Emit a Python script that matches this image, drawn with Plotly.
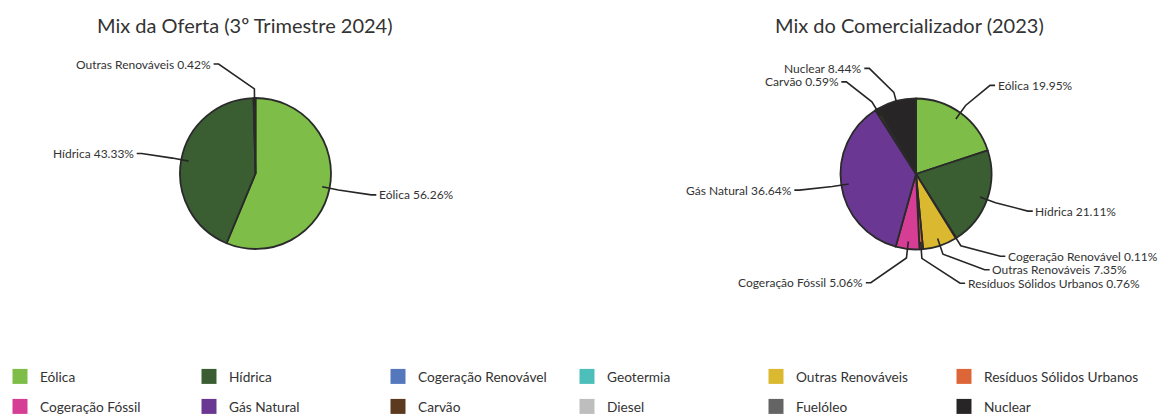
import math
import plotly.graph_objects as go

# ---------------- data ----------------
categories = ["Eólica", "Hídrica", "Cogeração Renovável", "Geotermia",
              "Outras Renováveis", "Resíduos Sólidos Urbanos", "Cogeração Fóssil",
              "Gás Natural", "Carvão", "Diesel", "Fuelóleo", "Nuclear"]
oferta_values = [56.26, 43.33, 0, 0, 0.42, 0, 0, 0, 0, 0, 0, 0]
comercializador_values = [19.95, 21.11, 0.11, 0, 7.35, 0.76, 5.06, 36.64, 0.59, 0, 0, 8.44]
chart_titles = ["Mix da Oferta (3º Trimestre 2024)", "Mix do Comercializador (2023)"]

# ---------------- style ----------------
colors = ["#7dbd48", "#3a5d32", "#5577bc", "#4cbfba", "#dab830", "#dd6638",
          "#d63d94", "#6a3892", "#5c3a20", "#bebebe", "#646464", "#282527"]
FONT = "Lato"
TEXT_COLOR = "#333333"
LINE_COLOR = "#262626"
W, H = 1160, 414
R = 75.5
CENTERS = [(255.5, 173.5), (916.0, 174.0)]
TITLE_POS = [(245, 25), (909, 25)]
LABEL_Y_R = 1.45          # radius used for the label's vertical position
LABEL_X_R_TOP = 1.53      # labels sit on these circles (upper / lower half)
LABEL_X_R_BOTTOM = 1.56
BEND_R = 1.12
GAP = 13.5
LEG_COLS = 6
LEG_ROW_Y = [376.5, 406.5]
LEG_ENTRY = 144
LEG_LAST_X = 944


def px(x, y):
    return x / W, 1 - y / H


def resolve(group, gap):
    """Push overlapping labels away from the pie's top/bottom (towards the middle)."""
    top = sorted([g for g in group if g["uy"] < 0], key=lambda d: d["ly"])
    for a, b in zip(top, top[1:]):
        if b["ly"] - a["ly"] < gap:
            b["ly"] = a["ly"] + gap
    bot = sorted([g for g in group if g["uy"] >= 0], key=lambda d: -d["ly"])
    for a, b in zip(bot, bot[1:]):
        if a["ly"] - b["ly"] < gap:
            b["ly"] = a["ly"] - gap


fig = go.Figure()
shapes = []
annotations = []

for (cx, cy), vals, title, tpos in zip(CENTERS, [oferta_values, comercializador_values],
                                       chart_titles, TITLE_POS):
    labs = [c for c, v in zip(categories, vals) if v > 0]
    vs = [v for v in vals if v > 0]
    cols = [col for col, v in zip(colors, vals) if v > 0]
    x0, y1 = px(cx - R, cy - R)
    x1, y0 = px(cx + R, cy + R)
    fig.add_trace(go.Pie(
        labels=labs, values=vs, sort=False, direction="clockwise", rotation=0,
        textinfo="none", textposition="none", showlegend=False,
        marker=dict(colors=cols, line=dict(color="#2a2a2a", width=1.8)),
        domain=dict(x=[x0, x1], y=[y0, y1]), hoverinfo="label+percent",
    ))

    total = sum(vs)
    items = []
    cum = 0.0
    for lab, v in zip(labs, vs):
        mid = (cum + v / 2) / total * 2 * math.pi
        cum += v
        ux, uy = math.sin(mid), -math.cos(mid)
        side = 1 if ux >= 0 else -1
        items.append(dict(lab=lab, v=v, ux=ux, uy=uy, side=side,
                          ly=cy + LABEL_Y_R * R * uy))

    for side in (1, -1):
        resolve([it for it in items if it["side"] == side], GAP)

    for it in items:
        rl = (LABEL_X_R_TOP if it["uy"] < 0 else LABEL_X_R_BOTTOM) * R
        dy = it["ly"] - cy
        dx = math.sqrt(max(rl * rl - dy * dy, 0.0))
        p0 = (cx + 0.9 * R * it["ux"], cy + 0.9 * R * it["uy"])
        p1 = (cx + BEND_R * R * it["ux"], cy + BEND_R * R * it["uy"])
        p2 = (cx + it["side"] * max(dx, abs(p1[0] - cx) + 8), it["ly"])
        p3 = (p2[0] + it["side"] * 5, it["ly"])
        pts = [px(*p) for p in (p0, p1, p2, p3)]
        path = "M " + " L ".join(f"{a:.5f},{b:.5f}" for a, b in pts)
        shapes.append(dict(type="path", path=path, xref="paper", yref="paper",
                           line=dict(color=LINE_COLOR, width=1.6)))
        tx, ty = px(p3[0] + it["side"] * 0.5, p3[1])
        annotations.append(dict(
            x=tx, y=ty, xref="paper", yref="paper", showarrow=False,
            text=f"{it['lab']} {it['v']:.2f}%",
            xanchor="left" if it["side"] > 0 else "right", yanchor="middle",
            font=dict(family=FONT, size=12, color=TEXT_COLOR)))

    tx, ty = px(*tpos)
    annotations.append(dict(x=tx, y=ty, xref="paper", yref="paper", showarrow=False,
                            text=title, xanchor="center", yanchor="middle",
                            font=dict(family=FONT, size=20, color=TEXT_COLOR)))

# legend entries: rows of 6; columns 1-5 in one legend per row, column 6 in its own legend
legend_names = ["legend", "legend2", "legend3", "legend4"]
for i, (cat, col) in enumerate(zip(categories, colors)):
    row, c = divmod(i, LEG_COLS)
    leg = legend_names[row * 2 + (1 if c == LEG_COLS - 1 else 0)]
    fig.add_trace(go.Scatter(
        x=[None], y=[None], mode="markers", name=cat,
        marker=dict(symbol="square", size=15, color=col, line=dict(width=0)),
        legend=leg, hoverinfo="skip"))

leg_font = dict(family=FONT, size=13.7, color=TEXT_COLOR)
legend_layout = {}
for row, ry in enumerate(LEG_ROW_Y):
    legend_layout[legend_names[row * 2]] = dict(
        orientation="h", x=0, xanchor="left", y=1 - ry / H, yanchor="middle",
        entrywidth=LEG_ENTRY, entrywidthmode="pixels", font=leg_font,
        bgcolor="rgba(0,0,0,0)", borderwidth=0)
    legend_layout[legend_names[row * 2 + 1]] = dict(
        orientation="h", x=LEG_LAST_X / W, xanchor="left", y=1 - ry / H,
        yanchor="middle", font=leg_font, bgcolor="rgba(0,0,0,0)", borderwidth=0)

fig.update_layout(
    width=W, height=H,
    margin=dict(l=0, r=0, t=0, b=0, autoexpand=False),
    paper_bgcolor="white", plot_bgcolor="white",
    xaxis=dict(visible=False), yaxis=dict(visible=False),
    shapes=shapes, annotations=annotations,
    font=dict(family=FONT, color=TEXT_COLOR),
    **legend_layout,
)

fig.write_html("out.html",
               config={"displayModeBar": False},
               post_script="document.body.style.margin='0px';"
                           "document.body.style.overflow='hidden';")
